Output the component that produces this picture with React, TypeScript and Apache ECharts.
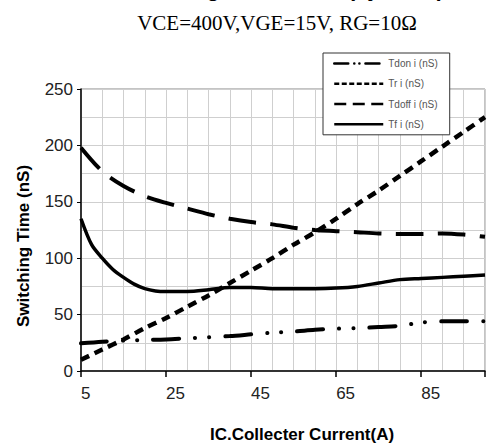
import React, { useEffect, useRef } from "react";
import * as echarts from "echarts";

const current = [5, 10, 15, 20, 25, 30, 35, 40, 45, 50, 55, 60, 65, 70, 75, 80, 85, 90, 95, 100];
const tdon = [24.5, 26, 27, 27.5, 28, 29, 30, 31, 32.5, 34, 35, 36.5, 37.5, 38, 39, 40, 43, 44, 44, 44];
const tr = [10, 19, 28, 38, 47, 57, 67, 78, 89, 100, 112, 123, 135, 148, 160, 173, 186, 199, 212, 225];
const tdoff = [198, 177, 164, 155, 149, 144, 139, 135, 132, 130, 127, 125, 124, 123, 122, 121.5, 121.5, 122, 121, 119];
const tfCurrent = [5, 7.5, 10, 12.5, 15, 17.5, 20, 22.5, 25, 30, 35, 40, 45, 50, 55, 60, 65, 70, 75, 80, 85, 90, 95, 100];
const tf = [135, 112, 100, 90, 83, 77, 73, 71, 70.5, 70.5, 72, 74, 74, 73, 73, 73, 73.5, 75, 78, 81, 82, 83, 84, 85];

const seriesNames = ["Tdon i (nS)", "Tr i (nS)", "Tdoff i (nS)", "Tf i (nS)"];
const xTickLabels = ["5", "25", "45", "65", "85"];
const yTickLabels = ["0", "50", "100", "150", "200", "250"];

const pairs = (xs: number[], ys: number[]) => xs.map((x, i) => [x, ys[i]]);

export default function App() {
  const ref = useRef<HTMLDivElement>(null);
  useEffect(() => {
    if (!ref.current) return;
    const chart = echarts.init(ref.current, undefined, { renderer: "svg" });
    const lineBase = { type: "line", symbol: "none", xAxisIndex: 0, yAxisIndex: 0, z: 3 };
    const legendDash = [
      [14, 6, 0.1, 5, 0.1, 6],
      [5, 2.5],
      [12, 6.5],
      "solid",
    ];
    chart.setOption({
      animation: false,
      backgroundColor: "#fff",
      grid: { left: 81, right: 1, top: 89, bottom: 72, show: true, borderColor: "#888", borderWidth: 1 },
      legend: {
        orient: "vertical",
        left: 323,
        top: 53,
        padding: [5, 12, 5, 10],
        itemWidth: 49,
        itemHeight: 14,
        itemGap: 9,
        borderColor: "#333",
        borderWidth: 1,
        backgroundColor: "#fff",
        data: seriesNames.map((n, i) => ({
          name: n,
          lineStyle: { type: legendDash[i], width: 2.5, cap: i === 0 ? "round" : "butt" },
        })),
        lineStyle: { width: 2.5 },
        itemStyle: { color: "rgba(0,0,0,0)", borderWidth: 0, opacity: 0 },
        textStyle: { fontFamily: "Arial, 'Liberation Sans'", fontSize: 10, color: "#555" },
      },
      xAxis: [
        {
          type: "value",
          min: 5,
          max: 100,
          interval: 20,
          position: "bottom",
          axisLine: { lineStyle: { color: "#000", width: 1.5 } },
          axisTick: { show: true, length: 6, lineStyle: { color: "#000", width: 1.5 } },
          splitLine: { show: false },
          axisLabel: {
            margin: 14,
            align: "left",
            fontFamily: "Arial, 'Liberation Sans'",
            fontSize: 17,
            color: "#222",
            formatter: (v: number) => (xTickLabels.includes(String(v)) ? String(v) : ""),
          },
        },
        {
          type: "value",
          min: 5,
          max: 100,
          interval: 5,
          axisLine: { show: false },
          axisTick: { show: false },
          axisLabel: { show: false },
          splitLine: { show: true, lineStyle: { color: "#cfcfcf", width: 1 } },
        },
      ],
      yAxis: [
        {
          type: "value",
          min: 0,
          max: 250,
          interval: 50,
          position: "left",
          axisLine: { show: true, lineStyle: { color: "#000", width: 1.5 } },
          axisTick: { show: true, length: 4, lineStyle: { color: "#000", width: 1 } },
          splitLine: { show: false },
          axisLabel: {
            margin: 8,
            fontFamily: "Arial, 'Liberation Sans'",
            fontSize: 17,
            color: "#222",
            formatter: (v: number) => (yTickLabels.includes(String(v)) ? String(v) : ""),
          },
        },
        {
          type: "value",
          min: 0,
          max: 250,
          interval: 25,
          axisLine: { show: false },
          axisTick: { show: false },
          axisLabel: { show: false },
          splitLine: { show: true, lineStyle: { color: "#cfcfcf", width: 1 } },
        },
      ],
      series: [
        {
          ...lineBase,
          name: seriesNames[0],
          data: pairs(current, tdon),
          smooth: 0.3,
          lineStyle: { color: "#000", width: 4, type: [26, 16, 0.1, 14, 0.1, 16], cap: "round" },
          itemStyle: { color: "#000" },
        },
        {
          ...lineBase,
          name: seriesNames[1],
          data: pairs(current, tr),
          smooth: 0.3,
          lineStyle: { color: "#000", width: 4.5, type: [9, 6], cap: "butt" },
          itemStyle: { color: "#000" },
        },
        {
          ...lineBase,
          name: seriesNames[2],
          data: pairs(current, tdoff),
          smooth: 0.3,
          lineStyle: { color: "#000", width: 4, type: [28, 14], cap: "butt" },
          itemStyle: { color: "#000" },
        },
        {
          ...lineBase,
          name: seriesNames[3],
          data: pairs(tfCurrent, tf),
          smooth: 0.3,
          lineStyle: { color: "#000", width: 3.5, type: "solid" },
          itemStyle: { color: "#000" },
        },
      ],
      graphic: [
        {
          type: "text",
          x: 116,
          y: -12,
          style: {
            text: "Switching Time vs. IC (Tj=25°C)",
            font: "bold 22px Arial, 'Liberation Sans'",
            fill: "#000",
            verticalAlign: "middle",
          },
        },
        {
          type: "text",
          x: 277,
          y: 23,
          style: {
            text: "VCE=400V,VGE=15V, RG=10Ω",
            font: "21px 'Times New Roman', 'Liberation Serif', serif",
            fill: "#000",
            align: "center",
            verticalAlign: "middle",
          },
        },
        {
          type: "text",
          x: 23,
          y: 246,
          rotation: Math.PI / 2,
          style: {
            text: "Switching Time (nS)",
            font: "bold 17px Arial, 'Liberation Sans'",
            fill: "#000",
            align: "center",
            verticalAlign: "middle",
          },
        },
        {
          type: "text",
          x: 302,
          y: 434,
          style: {
            text: "IC.Collecter Current(A)",
            font: "bold 17px Arial, 'Liberation Sans'",
            fill: "#000",
            align: "center",
            verticalAlign: "middle",
          },
        },
      ],
    });
    return () => chart.dispose();
  }, []);
  return (
    <div
      ref={ref}
      style={{ position: "fixed", left: 0, top: 0, width: 488, height: 443 }}
    />
  );
}
